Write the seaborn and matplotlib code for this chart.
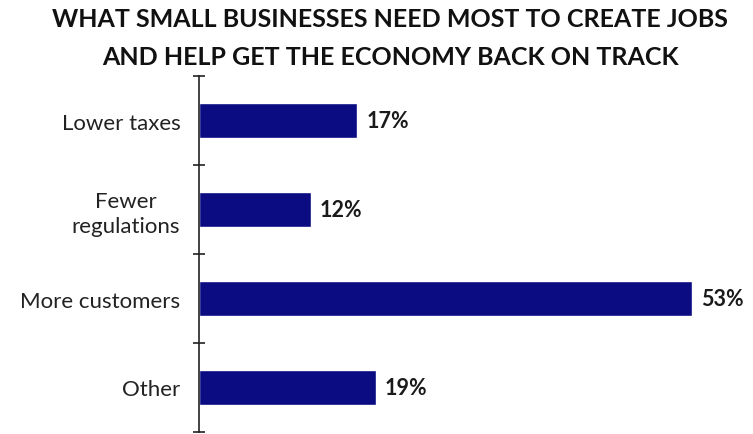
import matplotlib
matplotlib.use("Agg")
import matplotlib.pyplot as plt
import seaborn as sns
import pandas as pd

categories = ["Lower taxes", "Fewer\nregulations", "More customers", "Other"]
values = [17, 12, 53, 19]
value_labels = ["17%", "12%", "53%", "19%"]
title_lines = ["WHAT SMALL BUSINESSES NEED MOST TO CREATE JOBS",
               "AND HELP GET THE ECONOMY BACK ON TRACK"]

sns.set_theme(style="white")
plt.rcParams["font.family"] = ["Lato", "DejaVu Sans"]

df = pd.DataFrame({"category": categories, "value": values})

fig = plt.figure(figsize=(7.53, 4.35), dpi=100)
ax = fig.add_axes([199 / 753, 2 / 435, 530 / 753, 356 / 435])

sns.barplot(data=df, x="value", y="category", orient="h", color="#0b0b82",
            width=0.4, saturation=1, ax=ax)

ax.set_xlim(0, 57)
ax.set_ylim(3.5, -0.5)
ax.set_xlabel("")
ax.set_ylabel("")
ax.set_xticks([])

for s in ["top", "right", "bottom"]:
    ax.spines[s].set_visible(False)
ax.spines["left"].set_color("#222222")
ax.spines["left"].set_linewidth(1.2)

# category labels at bar centres, tick marks only at the slot boundaries
ax.set_yticks(range(len(categories)))
ax.set_yticklabels(categories, ha="right", multialignment="center", linespacing=1.3)
ax.tick_params(axis="y", which="major", left=True, length=0, pad=13.5,
               labelsize=16, labelcolor="#222222")
ax.set_yticks([-0.5, 0.5, 1.5, 2.5, 3.5], minor=True)
ax.tick_params(axis="y", which="minor", left=True, length=8, width=1.2,
               direction="inout", color="#222222")

for i, (v, lab) in enumerate(zip(values, value_labels)):
    ax.text(v + 1.0, i, lab, va="center", ha="left", fontsize=15.5,
            fontweight="bold", color="#1a1a1a")

# two-line bold title centred over the chart, placed by baseline
for line, y in zip(title_lines, [27, 65]):
    fig.text(390 / 753, 1 - y / 435, line, ha="center", va="baseline", fontsize=18,
             fontweight="bold", color="#111111")

fig.savefig("out.png", dpi=100)
